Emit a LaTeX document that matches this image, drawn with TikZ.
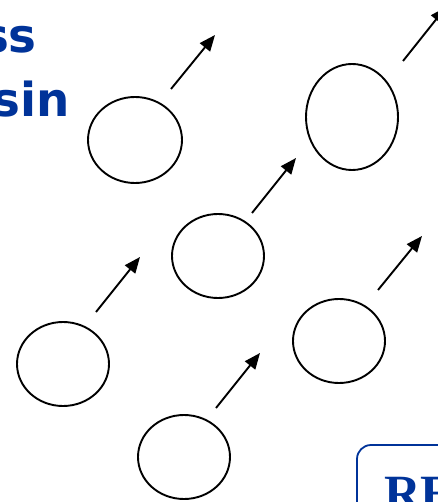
\documentclass[tikz,border=0pt]{standalone}
\usepackage{fontspec}
\newfontfamily\titlefont{DejaVu Sans}
\newfontfamily\boxfont{Liberation Serif}
\usetikzlibrary{arrows.meta}
\definecolor{slideblue}{RGB}{0,51,153}
\tikzset{
  cell/.style={line width=1.9bp},
  flow/.style={line width=1.9bp, -{Triangle[length=16bp,width=13bp]}},
  title/.style={inner sep=0pt, text=slideblue, font=\titlefont\bfseries\fontsize{47}{50}\selectfont},
}
\begin{document}
\begin{tikzpicture}[x=1bp,y=-1bp]
\useasboundingbox (0,0) rectangle (438,502);
\clip (0,0) rectangle (438,502);
% ellipses
\draw[cell] (135,140) ellipse [x radius=47, y radius=43];
\draw[cell] (352,117) ellipse [x radius=46, y radius=53];
\draw[cell] (218,256) ellipse [x radius=46, y radius=42];
\draw[cell] (63,364) ellipse [x radius=46, y radius=42];
\draw[cell] (339,341) ellipse [x radius=46, y radius=42];
\draw[cell] (184,457) ellipse [x radius=46, y radius=42];
% arrows
\coordinate (a1s) at (171,89);  \coordinate (a1e) at (215,35);
\coordinate (a2s) at (403,61);  \coordinate (a2e) at (446,7);
\coordinate (a3s) at (252,213); \coordinate (a3e) at (296,158);
\coordinate (a4s) at (96,312);  \coordinate (a4e) at (140,257);
\coordinate (a5s) at (378,290); \coordinate (a5e) at (422,236);
\coordinate (a6s) at (216,408); \coordinate (a6e) at (260,353);
\draw[flow] (a1s) -- (a1e);
\draw[flow] (a2s) -- (a2e);
\draw[flow] (a3s) -- (a3e);
\draw[flow] (a4s) -- (a4e);
\draw[flow] (a5s) -- (a5e);
\draw[flow] (a6s) -- (a6e);
% title fragments
\node[title, anchor=base east] (t1) at (37,53) {ss};
\node[title, anchor=base east] (t2) at (70,117) {sin};
% box
\draw[slideblue, line width=1.8bp, rounded corners=14bp] (357,445) rectangle (520,580);
\node[inner sep=0pt, anchor=base west, text=slideblue, font=\boxfont\bfseries\fontsize{51}{55}\selectfont] (re) at (384,510) {RE};
\end{tikzpicture}
\end{document}
